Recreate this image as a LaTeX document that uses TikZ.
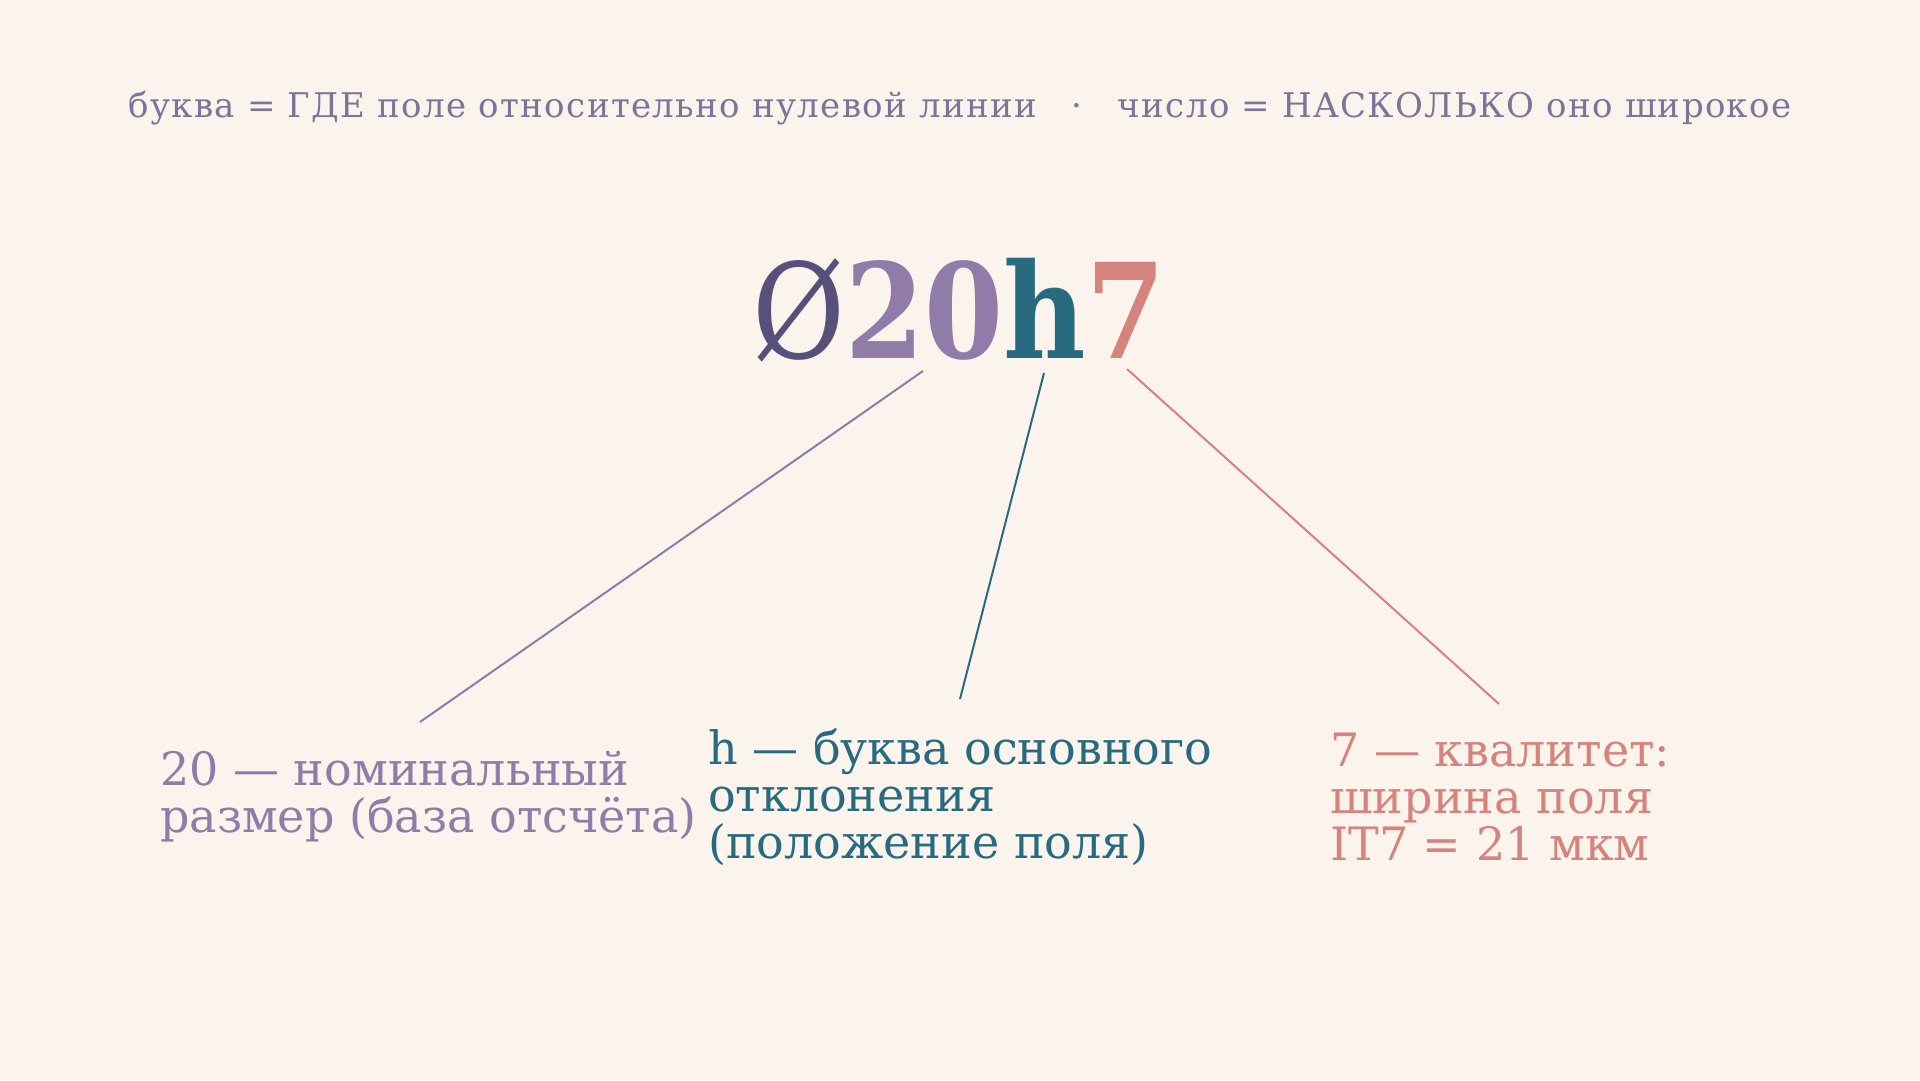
\documentclass[tikz,border=0pt]{standalone}
\usepackage{fontspec}
\setmainfont{DejaVu Serif}
\newfontfamily\spacedfont[LetterSpace=4]{DejaVu Serif}
\newfontfamily\titlefont[FakeStretch=0.86]{DejaVu Serif}
\definecolor{bg}{HTML}{FAF4EC}
\definecolor{topgray}{HTML}{7A7699}
\definecolor{darkpur}{HTML}{56507A}
\definecolor{pur}{HTML}{917BA9}
\definecolor{teal}{HTML}{286A80}
\definecolor{salmon}{HTML}{D6827D}
\tikzset{
  lbl/.style={anchor=west, align=left, font=\fontsize{46}{47}\selectfont, inner sep=0pt},
  conn/.style={line width=2pt}
}
\begin{document}
\begin{tikzpicture}[x=1pt,y=-1pt]
\useasboundingbox[fill=bg] (0,0) rectangle (1920,1080);
\node[anchor=base, inner sep=0pt, text=topgray, font=\fontsize{34}{38}\selectfont\spacedfont] (top) at (960,117)
  {буква = ГДЕ поле относительно нулевой линии\hspace{34pt}·\hspace{36pt}число = НАСКОЛЬКО оно широкое};
\node[anchor=base, inner sep=0pt, font=\fontsize{132}{140}\selectfont\titlefont] (title) at (959,358)
  {\textcolor{darkpur}{Ø}\textcolor{pur}{\bfseries 20}\textcolor{teal}{\bfseries h}\textcolor{salmon}{\bfseries 7}};
\node[lbl, text=pur] (l20) at (160,797) {20 — номинальный\\размер (база отсчёта)};
\node[lbl, text=teal] (lh) at (708,797) {h — буква основного\\отклонения\\(положение поля)};
\node[lbl, text=salmon] (l7) at (1330,797) {7 — квалитет:\\ширина поля\\IT7 = 21 мкм};
\coordinate (a20) at (923,371);
\coordinate (b20) at (420,722);
\coordinate (ah) at (1044,373);
\coordinate (bh) at (960,699);
\coordinate (a7) at (1127,369);
\coordinate (b7) at (1499,704);
\draw[conn, pur] (a20) -- (b20);
\draw[conn, teal] (ah) -- (bh);
\draw[conn, salmon] (a7) -- (b7);
\end{tikzpicture}
\end{document}
